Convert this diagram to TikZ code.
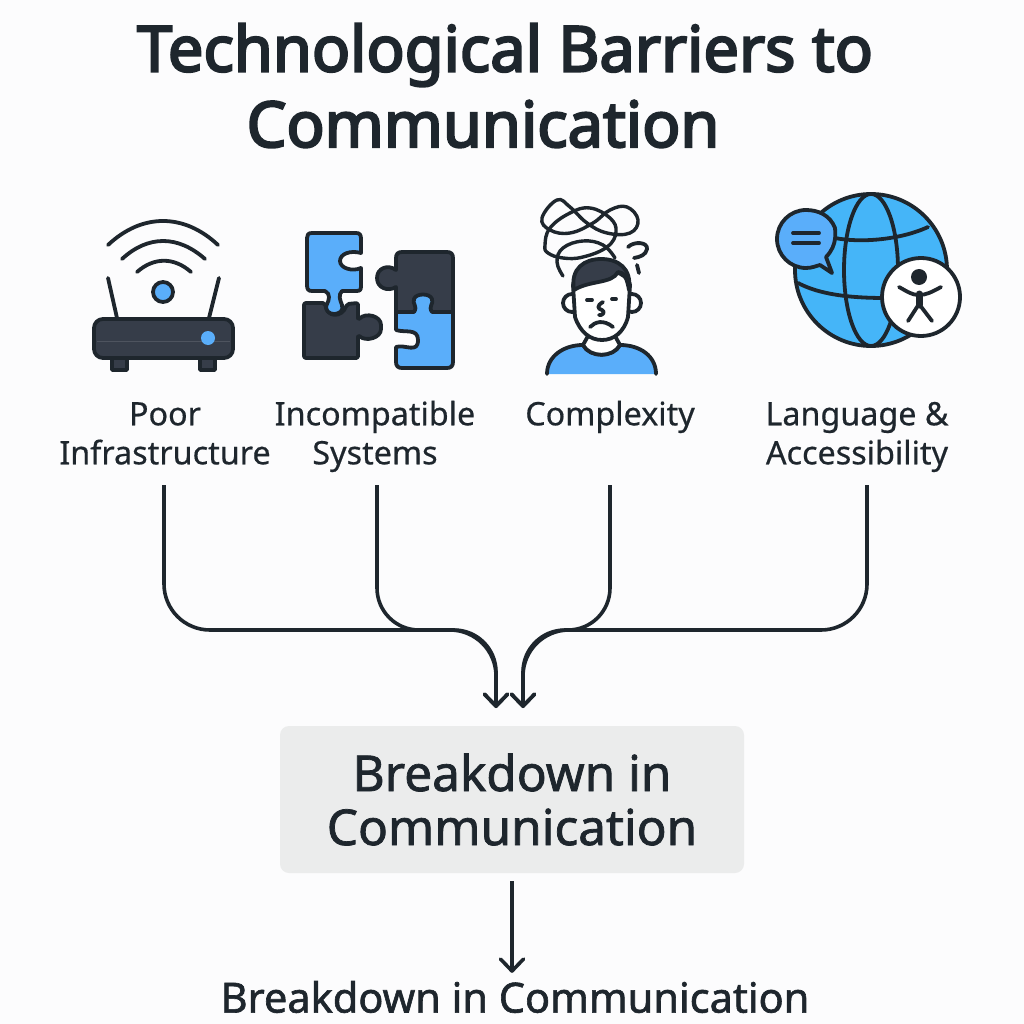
\documentclass[tikz,border=0pt]{standalone}
\usepackage{fontspec}
\setmainfont{Noto Sans}
\newfontfamily\headfont[FakeBold=3.5]{Noto Sans}
\newfontfamily\boxfont[FakeBold=1.5]{Noto Sans}
\newfontfamily\labelfont[FakeBold=0.5]{Noto Sans}
\usetikzlibrary{arrows.meta}
\definecolor{ink}{HTML}{1E262D}
\definecolor{slate}{HTML}{363D49}
\definecolor{skyblue}{HTML}{5AAEFA}
\definecolor{globeblue}{HTML}{45B5F8}
\definecolor{paper}{HTML}{FCFCFD}
\definecolor{boxgray}{HTML}{EBECEC}

\begin{document}
\begin{tikzpicture}[x=1pt, y=-1pt,
    every node/.style={text=ink},
    titleline/.style={font=\headfont\fontsize{63.2}{74}\selectfont},
    barrier/.style={align=center, inner ysep=9pt, font=\labelfont\fontsize{32.3}{39}\selectfont},
    outcome/.style={draw=none, fill=boxgray, rounded corners=9pt, minimum width=464pt, minimum height=147pt, align=center, font=\boxfont\fontsize{49.5}{54}\selectfont},
    result/.style={inner sep=0pt, font=\boxfont\fontsize{41.5}{48}\selectfont},
    flow/.style={draw=ink, line width=3.6pt, -{Straight Barb[length=12pt,width=23pt,round]}},
    icon/.style={draw=ink, line width=3.8pt, line cap=round, line join=round}]

  \fill[paper] (0,0) rectangle (1024,1024);
  \useasboundingbox (0,0) rectangle (1024,1024);

  \node[titleline] (titlea) at (505,55) {Technological Barriers to};
  \node[titleline] (titleb) at (483,124) {Communication};

  \draw[icon] (108,245) .. controls (142,213) and (184,213) .. (218,245);
  \draw[icon] (122,259) .. controls (148,235) and (178,235) .. (205,259);
  \draw[icon] (137,272) .. controls (154,257) and (174,257) .. (191,272);
  \draw[icon, fill=skyblue] (163,292) circle (10);
  \draw[icon] (108,278) -- (117,318);
  \draw[icon] (219,278) -- (209,318);
  \draw[icon, fill=slate] (112,358) rectangle (127,370);
  \draw[icon, fill=slate] (200,358) rectangle (215,370);
  \draw[icon, fill=slate, rounded corners=9pt] (94,319) rectangle (233,358);
  \draw[slate!88!white, line width=1pt] (97,341) -- (230,341);
  \fill[skyblue] (208,338) circle (7);

  \draw[icon, fill=slate, rounded corners=2pt] (304,303) -- (325,303) .. controls (327,318) and (342,318) .. (347,304) -- (358,303) -- (358,320) .. controls (366,312) and (381,316) .. (381,327) .. controls (381,338) and (366,342) .. (358,335) -- (358,358) -- (304,358) -- cycle;
  \draw[icon, fill=skyblue] (312,233) -- (356,233) .. controls (360,233) and (361,235) .. (361,239) -- (361,253) .. controls (350,250) and (340,254) .. (340,261) .. controls (340,268) and (352,272) .. (361,268) -- (361,286) .. controls (361,290) and (360,291) .. (356,291) -- (342,291) .. controls (338,295) and (340,300) .. (342,305) .. controls (344,311) and (339,314) .. (334,314) .. controls (329,314) and (324,310) .. (327,304) .. controls (329,300) and (331,294) .. (325,291) -- (312,291) .. controls (308,291) and (307,289) .. (307,285) -- (307,238) .. controls (307,235) and (308,233) .. (312,233) -- cycle;
  \draw[icon, fill=slate] (402,252) -- (447,252) .. controls (451,252) and (453,254) .. (453,258) -- (453,312) -- (396,312) -- (396,287) .. controls (388,292) and (377,288) .. (377,278) .. controls (377,268) and (388,264) .. (396,270) -- (396,258) .. controls (396,254) and (398,252) .. (402,252) -- cycle;
  \draw[icon, fill=skyblue] (396,312) -- (414,312) .. controls (418,306) and (412,304) .. (414,299) .. controls (416,293) and (430,293) .. (432,299) .. controls (434,304) and (428,306) .. (432,312) -- (453,312) -- (453,362) .. controls (453,366) and (451,368) .. (447,368) -- (402,368) .. controls (398,368) and (396,366) .. (396,362) -- (396,347) .. controls (405,344) and (418,354) .. (418,340) .. controls (418,328) and (405,333) .. (396,330) -- cycle;

  \draw[icon, line width=3.4pt] plot[smooth cycle, tension=0.7] coordinates {(542,218) (557,200) (570,207) (587,223) (607,233) (630,233) (638,220) (627,207) (610,210) (593,223) (570,233) (550,230)};
  \draw[icon, line width=3.4pt] plot[smooth cycle, tension=0.7] coordinates {(545,245) (550,228) (570,213) (590,208) (610,218) (616,232) (607,247) (583,257) (563,258) (548,253)};
  \draw[icon, line width=3.4pt] plot[smooth, tension=0.7] coordinates {(563,276) (557,262) (563,248) (583,241) (603,245) (615,258)};
  \draw[icon] (628,247) .. controls (634,241) and (648,242) .. (647,249) .. controls (646,255) and (640,257) .. (634,258);
  \draw[icon] (637,265) -- (639,273);
  \draw[icon, fill=skyblue] (547,374) .. controls (547,356) and (564,345) .. (583,345) .. controls (590,358) and (613,358) .. (620,345) .. controls (640,345) and (656,356) .. (656,374);
  \draw[icon, fill=white] (588,336) -- (583,345) .. controls (590,358) and (613,358) .. (620,345) -- (615,336) -- cycle;
  \draw[icon, fill=white] (572,303) circle (9);
  \draw[icon, fill=white] (632,303) circle (9);
  \draw[icon, fill=white] (573,285) -- (575,317) .. controls (580,332) and (590,340) .. (602,340) .. controls (614,340) and (624,332) .. (628,317) -- (630,285) .. controls (626,265) and (578,265) .. cycle;
  \draw[icon, fill=slate] (574,290) .. controls (570,268) and (585,259) .. (601,259) .. controls (618,259) and (632,268) .. (629,290) .. controls (627,278) and (624,272) .. (618,272) .. controls (612,284) and (590,280) .. (574,290) -- cycle;
  \draw[icon] (587,300) -- (592,300);
  \draw[icon] (612,299) -- (616,299);
  \draw[icon] (603,302) .. controls (596,306) and (598,309) .. (602,310) .. controls (606,312) and (602,316) .. (599,315);
  \draw[icon] (590,327) .. controls (595,322) and (603,319) .. (613,327);

  \draw[icon, fill=globeblue] (871,270) circle (76);
  \draw[icon] (871,270) ellipse (27 and 76);
  \draw[icon] (835,238) .. controls (860,243) and (900,240) .. (928,227);
  \draw[icon] (798,283) .. controls (815,292) and (840,298) .. (885,298);
  \draw[icon, fill=skyblue] (832,273) -- (826,257) .. controls (838,245) and (835,231) .. (835,228) .. controls (830,215) and (818,210) .. (806,210) .. controls (790,210) and (777,223) .. (777,239) .. controls (777,255) and (790,268) .. (806,268) .. controls (812,268) and (816,266) .. (820,265) -- cycle;
  \draw[icon] (793,233) -- (819,233);
  \draw[icon] (793,243) -- (819,243);
  \draw[icon, fill=white] (921,297) circle (39);
  \fill[ink] (919,277) circle (8);
  \draw[icon] (899,287) .. controls (908,292) and (912,295) .. (919,295) .. controls (926,295) and (932,292) .. (941,287);
  \draw[icon, line width=7pt] (919,294) -- (919,305);
  \draw[icon] (908,321) -- (919,304) -- (932,321);

  \node[barrier] (poor) at (165,437) {\strut Poor\\\strut Infrastructure};
  \node[barrier] (incompatible) at (375,437) {\strut Incompatible\\\strut Systems};
  \node[barrier] (complexity) at (610,437) {\strut Complexity\\\strut};
  \node[barrier] (language) at (857,437) {\strut Language \&\\\strut Accessibility};

  \node[outcome] (breakdown) at (512,799.5) {Breakdown in\\Communication};
  \node[result] (final) at (515,997) {Breakdown in Communication};

  \coordinate (joinl) at (496,630);
  \coordinate (joinr) at (523,630);
  \coordinate (tipl) at (496,708);
  \coordinate (tipr) at (523,708);

  \draw[flow, rounded corners=46pt] ([xshift=-1pt]poor.south) -- ([xshift=-1pt]poor.south |- joinl) -- (joinl) [rounded corners=36pt] -- (tipl);
  \draw[flow, rounded corners=42pt] ([xshift=2pt]incompatible.south) -- ([xshift=2pt]incompatible.south |- joinl) -- (joinl) [rounded corners=36pt] -- (tipl);
  \draw[flow, rounded corners=42pt] (complexity.south) -- (complexity.south |- joinr) -- (joinr) [rounded corners=36pt] -- (tipr);
  \draw[flow, rounded corners=46pt] ([xshift=10pt]language.south) -- ([xshift=10pt]language.south |- joinr) -- (joinr) [rounded corners=36pt] -- (tipr);
  \draw[flow, shorten <=8pt, shorten >=8pt] (breakdown.south) -- (breakdown.south |- final.north);
\end{tikzpicture}
\end{document}
